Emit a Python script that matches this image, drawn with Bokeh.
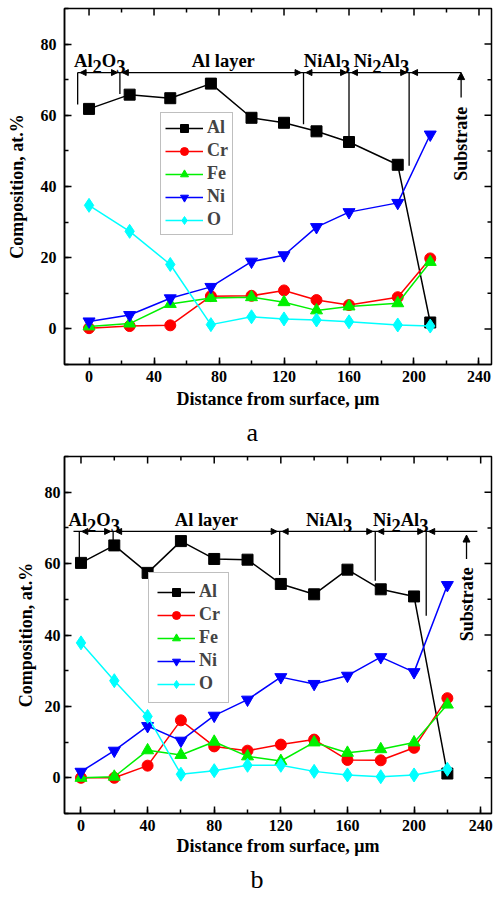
import numpy as np
from bokeh.plotting import figure
from bokeh.models import (Range1d, SingleIntervalTicker, Legend, LegendItem, Title,
                          Arrow, NormalHead, ColumnDataSource)
from bokeh.layouts import column
from bokeh.embed import file_html
from bokeh.resources import INLINE
from bokeh.core.properties import value

# ---------------- data, panel a ----------------
dist_a = [0, 25, 50, 75, 100, 120, 140, 160, 190, 210]
al_a = [61.8, 65.8, 64.8, 68.9, 59.3, 57.9, 55.5, 52.5, 46.1, 1.8]
cr_a = [0.2, 0.8, 1.0, 9.2, 9.3, 10.8, 8.1, 6.7, 8.9, 19.8]
fe_a = [0.7, 1.5, 7.0, 8.7, 8.9, 7.5, 5.2, 6.3, 7.2, 18.8]
ni_a = [2.1, 3.9, 8.6, 11.8, 18.9, 20.7, 28.6, 32.8, 35.4, 54.6]
o_a = [34.7, 27.4, 18.1, 1.2, 3.4, 2.8, 2.5, 2.0, 1.1, 0.8]

# ---------------- data, panel b ----------------
dist_b = [0, 20, 40, 60, 80, 100, 120, 140, 160, 180, 200, 220]
al_b = [60.2, 65.1, 57.4, 66.3, 61.3, 61.1, 54.3, 51.4, 58.3, 52.8, 50.8, 1.2]
cr_b = [0.0, 0.0, 3.4, 16.1, 8.8, 7.6, 9.3, 10.7, 5.0, 4.9, 8.4, 22.3]
fe_b = [0.0, 0.3, 7.7, 6.4, 10.1, 6.0, 4.7, 9.9, 7.0, 8.0, 9.9, 20.5]
ni_b = [1.7, 7.6, 14.5, 10.4, 17.4, 21.9, 28.2, 26.3, 28.6, 33.8, 29.6, 54.0]
o_b = [37.8, 27.2, 17.2, 1.0, 2.0, 3.5, 3.5, 1.8, 0.8, 0.3, 0.8, 2.4]

elements = ["Al", "Cr", "Fe", "Ni", "O"]

# axis ticks
x_major = [0, 40, 80, 120, 160, 200, 240]
x_minor = [20, 60, 100, 140, 180, 220]
y_major = [0, 20, 40, 60, 80]
y_minor = [10, 30, 50, 70]

# ---------------- layer annotations ----------------
phase_names = ["Al2O3", "Al layer", "NiAl3", "Ni2Al3"]
phase_parts = {
    "Al2O3": [("Al", 0), ("2", 1), ("O", 0), ("3", 1)],
    "Al layer": [("Al layer", 0)],
    "NiAl3": [("NiAl", 0), ("3", 1)],
    "Ni2Al3": [("Ni", 0), ("2", 1), ("Al", 0), ("3", 1)],
}
phase_x_a = [6.6, 82.6, 146.4, 180.0]
phase_y_a = 75.2
phase_x_b = [8.0, 75.3, 149.0, 192.0]
phase_y_b = 72.1

layer_line_y_a = 72.0
layer_line_x_a = [-7.0, 229.0]
bound_x_a = [-7.0, 19.0, 132.0, 160.0, 197.0]
bound_low_a = [63.0, 66.0, 57.5, 54.0, 45.8]
subst_x_a = 229.0
subst_arrow_a = [65.0, 72.0]
subst_text_y_a = 52.0

layer_line_y_b = 69.0
layer_line_x_b = [-4.5, 238.0]
bound_x_b = [-1.0, 19.3, 119.3, 176.7, 207.3]
bound_low_b = [60.2, 66.0, 56.8, 55.2, 45.4]
subst_x_b = 231.5
subst_arrow_b = [61.3, 68.0]
subst_text_y_b = 48.6

# ---------------- styles ----------------
FONT = "Liberation Serif"
colors = {"Al": "#000000", "Cr": "#ff0000", "Fe": "#00f000", "Ni": "#0000ff", "O": "#00ffff"}
markers = {"Al": "square", "Cr": "circle", "Fe": "triangle", "Ni": "inverted_triangle", "O": "diamond"}
msizes = {"Al": 11, "Cr": 11, "Fe": 12, "Ni": 12, "O": 14}
CHAR_W = {"A": 722, "l": 278, "O": 778, "N": 722, "i": 278, "2": 500, "3": 500,
          " ": 250, "a": 500, "y": 500, "e": 444, "r": 444}


def text_width(t, fs):
    return sum(CHAR_W.get(c, 500) for c in t) * fs / 1000.0


def style_axis(ax, label_standoff, title_standoff):
    ax.axis_line_width = 1.5
    ax.axis_line_color = "black"
    ax.major_tick_in = 7
    ax.major_tick_out = 0
    ax.minor_tick_in = 4
    ax.minor_tick_out = 0
    ax.major_tick_line_width = 1.5
    ax.minor_tick_line_width = 1.5
    ax.major_tick_line_color = "black"
    ax.minor_tick_line_color = "black"
    ax.major_label_text_font = FONT
    ax.major_label_text_font_style = "bold"
    ax.major_label_text_font_size = "16px"
    ax.major_label_text_color = "black"
    ax.major_label_standoff = label_standoff
    ax.axis_label_text_font = FONT
    ax.axis_label_text_font_style = "bold"
    ax.axis_label_text_font_size = "18px"
    ax.axis_label_text_color = "black"
    ax.axis_label_standoff = title_standoff


def make_panel(dist, series, xr, height, min_left, min_right, min_top,
               ylab_standoff, ytick_standoff, xlab_standoff,
               leg_loc, leg_pad, phase_x, phase_y, line_y, line_x, bx, blow,
               sx, sarrow, sty, caption, cap_offset, cap_standoff):
    p = figure(width=499, height=height, x_range=Range1d(*xr), y_range=Range1d(-10, 90),
               output_backend="svg", toolbar_location=None,
               min_border_left=min_left, min_border_right=min_right, min_border_top=min_top,
               min_border_bottom=10)
    p.background_fill_color = "white"
    p.border_fill_color = "white"
    p.outline_line_color = "black"
    p.outline_line_width = 1.5
    p.xgrid.visible = False
    p.ygrid.visible = False
    p.xaxis.ticker = SingleIntervalTicker(interval=40, num_minor_ticks=2)
    p.yaxis.ticker = SingleIntervalTicker(interval=20, num_minor_ticks=2)
    p.xaxis.axis_label = "Distance from surface, \u03bcm"
    p.yaxis.axis_label = "Composition, at.%"
    style_axis(p.xaxis[0], 6, xlab_standoff)
    style_axis(p.yaxis[0], ytick_standoff, ylab_standoff)

    # mirrored inward ticks on top and right edges (half of each dash is clipped by the frame)
    x0, x1 = xr
    p.scatter(x=x_major, y=[90] * len(x_major), marker="dash", size=14, angle=np.pi / 2,
              line_color="black", line_width=1.5)
    p.scatter(x=x_minor, y=[90] * len(x_minor), marker="dash", size=8, angle=np.pi / 2,
              line_color="black", line_width=1.5)
    p.scatter(x=[x1] * len(y_major), y=y_major, marker="dash", size=14,
              line_color="black", line_width=1.5)
    p.scatter(x=[x1] * len(y_minor), y=y_minor, marker="dash", size=8,
              line_color="black", line_width=1.5)

    # layer annotations: horizontal line, boundary lines, arrow heads pointing at boundaries
    p.segment(x0=[line_x[0]], y0=[line_y], x1=[line_x[1]], y1=[line_y], line_color="black", line_width=1.3)
    p.segment(x0=bx, y0=[line_y] * len(bx), x1=bx, y1=blow, line_color="black", line_width=1.3)
    hs = [b - 7 for b in bx[1:]] + [b + 7 for b in bx]
    he = [b - 1.5 for b in bx[1:]] + [b + 1.5 for b in bx]
    heads = ColumnDataSource(dict(xs=hs, xe=he, ys=[line_y] * len(hs)))
    p.add_layout(Arrow(source=heads, x_start="xs", x_end="xe", y_start="ys", y_end="ys",
                       line_alpha=0.0,
                       end=NormalHead(size=6, fill_color="black", line_color="black", line_width=1)))
    p.add_layout(Arrow(x_start=sx, x_end=sx, y_start=sarrow[0], y_end=sarrow[1],
                       line_color="black", line_width=1.3,
                       end=NormalHead(size=7, fill_color="black", line_color="black", line_width=1)))
    p.text(x=[sx], y=[sty], text=["Substrate"], angle=np.pi / 2, text_align="center",
           text_baseline="middle", text_font=value(FONT), text_font_style="bold",
           text_font_size="18px", text_color="black")

    fs = 18.5
    xs, ys, txt, xo, yo = [], [], [], [], []
    for name, cx in zip(phase_names, phase_x):
        parts = phase_parts[name]
        total = sum(text_width(t, fs) for t, _ in parts)
        cur = -total / 2.0
        for t, sub in parts:
            xs.append(cx)
            ys.append(phase_y)
            txt.append(t)
            xo.append(cur)
            yo.append(5 if sub else 0)
            cur += text_width(t, fs)
    p.text(x=xs, y=ys, text=txt, x_offset=xo, y_offset=yo, text_align="left",
           text_baseline="alphabetic", text_font=value(FONT), text_font_style="bold",
           text_font_size=f"{fs}px", text_color="black")

    items = []
    for el in elements:
        vals = series[el]
        lr = p.line(dist, vals, line_color=colors[el], line_width=1.5)
        sr = p.scatter(dist, vals, marker=markers[el], size=msizes[el],
                       fill_color=colors[el], line_color=colors[el])
        items.append(LegendItem(label=el, renderers=[lr, sr]))
    leg = Legend(items=items, location=leg_loc)
    leg.label_text_font = FONT
    leg.label_text_font_style = "bold"
    leg.label_text_font_size = "18px"
    leg.glyph_width = 38
    leg.glyph_height = 20
    leg.label_height = 20
    leg.spacing = 2
    leg.padding = leg_pad
    leg.margin = 0
    leg.label_standoff = 4
    leg.border_line_color = "#808080"
    leg.border_line_width = 1.5
    leg.background_fill_alpha = 1.0
    p.add_layout(leg)

    cap = Title(text=caption, align="left", offset=cap_offset, text_font=FONT,
                text_font_style="normal", text_font_size="26px", text_color="black",
                standoff=cap_standoff)
    p.add_layout(cap, "below")
    return p


p1 = make_panel(dist_a, {"Al": al_a, "Cr": cr_a, "Fe": fe_a, "Ni": ni_a, "O": o_a},
                (-15.1, 247.7), 451, 64, 0, 8, 11, 8, 4, (96, 129), 4,
                phase_x_a, phase_y_a, layer_line_y_a, layer_line_x_a, bound_x_a, bound_low_a,
                subst_x_a, subst_arrow_a, subst_text_y_a, "a", 182, 9)
p2 = make_panel(dist_b, {"Al": al_b, "Cr": cr_b, "Fe": fe_b, "Ni": ni_b, "O": o_b},
                (-9.9, 246.5), 447, 59, 8, 5, 6, 4, 2, (84, 110), 8,
                phase_x_b, phase_y_b, layer_line_y_b, layer_line_x_b, bound_x_b, bound_low_b,
                subst_x_b, subst_arrow_b, subst_text_y_b, "b", 186, 9)

layout = column(p1, p2)
open("out.html", "w").write(file_html(layout, INLINE))
